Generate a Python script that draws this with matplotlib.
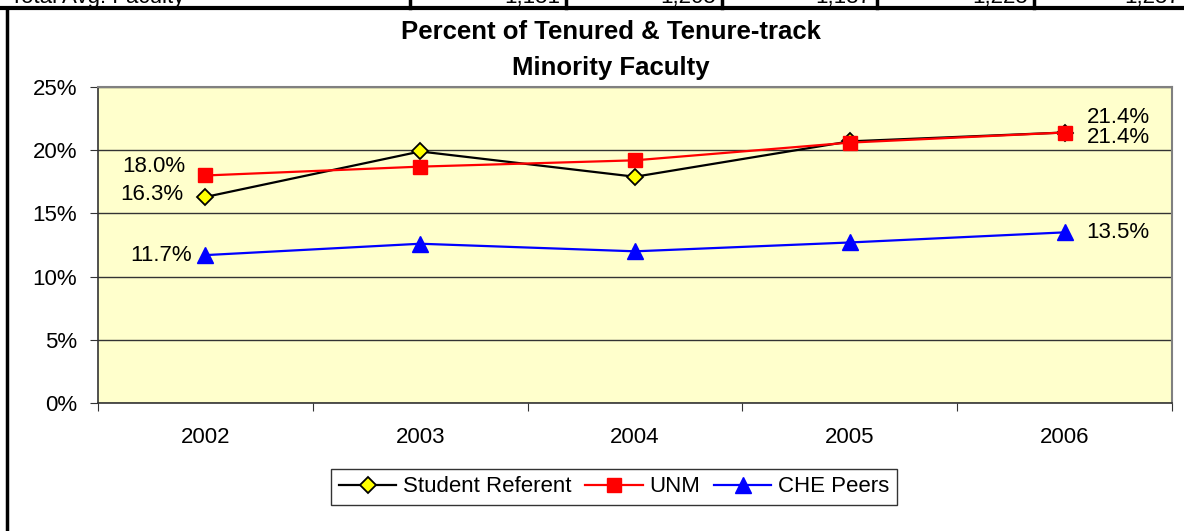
import matplotlib.pyplot as plt
from matplotlib.ticker import FuncFormatter
from matplotlib.lines import Line2D

plt.rcParams['font.family'] = ['Liberation Sans', 'DejaVu Sans']

# Datos
years = ['2002', '2003', '2004', '2005', '2006']
student_ref = [16.3, 19.9, 17.9, 20.7, 21.4]
unm = [18.0, 18.7, 19.2, 20.6, 21.4]
che_peers = [11.7, 12.6, 12.0, 12.7, 13.5]

# fila de tabla cortada arriba
table_label = 'Total Avg. Faculty'
table_vals = ['1,151', '1,205', '1,187', '1,225', '1,257']

fig = plt.figure(figsize=(11.84, 5.31), dpi=100)
ax = fig.add_axes([98 / 1184, 1 - 403 / 531, 1074 / 1184, 316 / 531])
ax.set_facecolor('#FFFFCC')

x = list(range(len(years)))
ax.plot(x, student_ref, '-', color='black', lw=1.6, marker='D', ms=8,
        mfc='#FFFF00', mec='black', mew=1.3, label='Student Referent', zorder=3)
ax.plot(x, unm, '-', color='#FF0000', lw=1.6, marker='s', ms=10,
        mfc='#FF0000', mec='#FF0000', label='UNM', zorder=4)
ax.plot(x, che_peers, '-', color='#0000FF', lw=1.6, marker='^', ms=11,
        mfc='#0000FF', mec='#0000FF', label='CHE Peers', zorder=3)

# etiquetas de datos (primer y ultimo punto)
fs = 16
def lab(xi, yi, dx, dy, ha):
    ax.annotate(f'{yi:.1f}%', (xi, yi), xytext=(dx, dy), textcoords='offset pixels',
                ha=ha, va='center', fontsize=fs)

lab(0, unm[0], -20, 9, 'right')
lab(0, student_ref[0], -22, 2, 'right')
lab(0, che_peers[0], -14, 0, 'right')
lab(4, unm[4], 22, 15, 'left')
lab(4, student_ref[4], 22, -5, 'left')
lab(4, che_peers[4], 22, 0, 'left')

ax.set_xlim(-0.5, 4.5)
ax.set_ylim(0, 25)
ax.set_yticks([0, 5, 10, 15, 20, 25])
ax.yaxis.set_major_formatter(FuncFormatter(lambda v, p: f'{v:.0f}%'))
ax.set_xticks([i - 0.5 for i in range(6)])
ax.set_xticklabels([])
ax.set_xticks(x, minor=True)
ax.set_xticklabels(years, minor=True)
ax.tick_params(axis='x', which='minor', length=0, pad=17, labelsize=fs)
ax.tick_params(axis='x', which='major', length=6, direction='out', color='#333333')
ax.tick_params(axis='y', length=6, direction='out', labelsize=fs, color='#333333', pad=9)
ax.grid(axis='y', color='#333333', lw=1.0)
ax.set_axisbelow(True)
for s in ['top', 'right']:
    ax.spines[s].set_color('#808080')
    ax.spines[s].set_linewidth(1.5)
for s in ['left', 'bottom']:
    ax.spines[s].set_color('#333333')
    ax.spines[s].set_linewidth(1.2)

fig.text(611 / 1184, 1 - 50 / 531, 'Percent of Tenured & Tenure-track\nMinority Faculty',
         ha='center', va='center', fontsize=18.5, fontweight='bold', linespacing=1.6)

leg = fig.legend(loc='center', bbox_to_anchor=(614 / 1184, 1 - 487 / 531), ncol=3,
                 fontsize=fs, frameon=True, fancybox=False, edgecolor='black',
                 handlelength=2.6, handletextpad=0.3, columnspacing=0.6,
                 borderpad=0.35, borderaxespad=0)
leg.get_frame().set_linewidth(1.0)

# marco del grafico y la fila de tabla de arriba
fig.add_artist(Line2D([0, 1], [1 - 8 / 531] * 2, color='black', lw=3))
fig.add_artist(Line2D([7 / 1184] * 2, [0, 1 - 8 / 531], color='black', lw=2.5))
for xd in [410, 566, 722, 877, 1034]:
    fig.add_artist(Line2D([xd / 1184] * 2, [1 - 8 / 531, 1], color='black', lw=2.5))
fig.text(10 / 1184, 1 + 3 / 531, table_label, ha='left', va='center', fontsize=fs)
for xd, v in zip([560, 716, 871, 1028, 1180], table_vals):
    fig.text(xd / 1184, 1 + 3 / 531, v, ha='right', va='center', fontsize=fs)

fig.savefig('out.png', dpi=100)
